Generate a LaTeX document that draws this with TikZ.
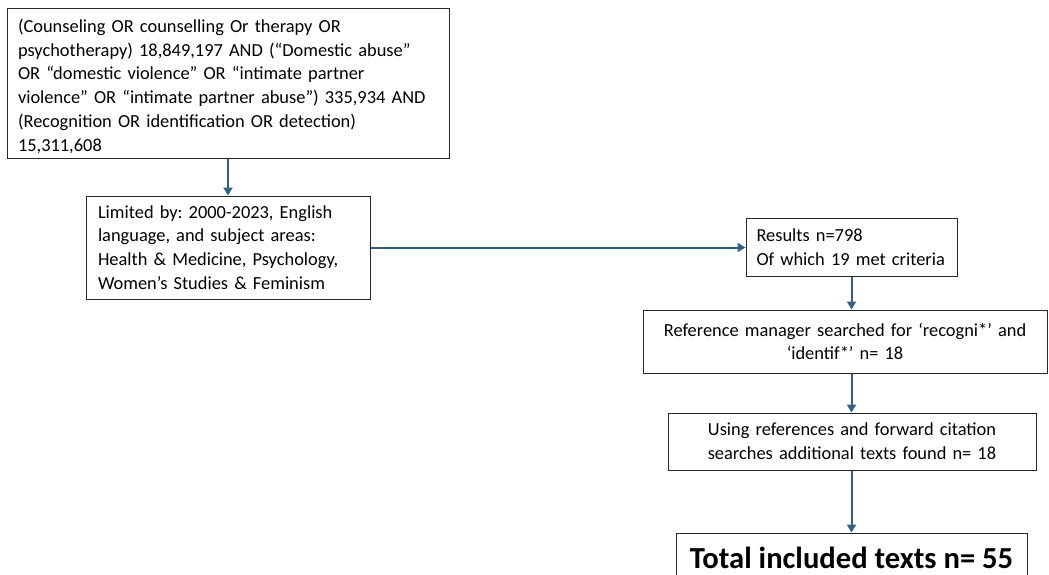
\documentclass[tikz,border=0pt]{standalone}
\usepackage{fontspec}
\setmainfont{Carlito}
\usetikzlibrary{arrows.meta}
\definecolor{flowblue}{RGB}{49,96,139}
\definecolor{boxline}{RGB}{40,40,40}
\newcommand{\boxfont}{\fontsize{18.4}{23.7}\selectfont\frenchspacing
  \hyphenpenalty=10000 \exhyphenpenalty=10000}
\tikzset{
  box/.style={draw=boxline, line width=1pt, rectangle, inner sep=0pt,
    font=\boxfont, text=black},
  leftbox/.style={box, align=left},
  midbox/.style={box, align=center},
  flow/.style={draw=flowblue, line width=2pt,
    -{Triangle[width=9pt,length=8pt]}}
}
\begin{document}
\begin{tikzpicture}[x=1pt,y=-1pt]
\useasboundingbox (0,0) rectangle (1049,574);

% search string
\node[leftbox, minimum width=442, minimum height=150, text width=420]
  (query) at (228,83)
  {\rule{0pt}{20pt}(Counseling OR counselling Or therapy OR\\
   psychotherapy) 18,849,197 AND (“Domestic abuse”\\
   OR “domestic violence” OR “intimate partner\\
   violence” OR “intimate partner abuse”) 335,934 AND\\
   (Recognition OR identification OR detection)\\
   15,311,608};

% limits applied
\node[leftbox, minimum width=284, minimum height=103, text width=260]
  (limits) at (228,247.5)
  {Limited by: 2000-2023, English\\
   language, and subject areas:\\
   Health \& Medicine, Psychology,\\
   Women’s Studies \& Feminism};

% results of the database search
\node[leftbox, minimum width=211, minimum height=58, text width=190]
  (results) at (851.5,247.5)
  {Results n=798\\
   Of which 19 met criteria};

% reference manager screening
\node[midbox, minimum width=404, minimum height=63, text width=390]
  (refman) at (845,341.5)
  {Reference manager searched for ‘recogni*’ and\\
   ‘identif*’ n= 18};

% citation chasing
\node[midbox, minimum width=368, minimum height=57, text width=350]
  (citations) at (852,441.5)
  {Using references and forward citation\\
   searches additional texts found n= 18};

% final count
\node[box, minimum width=351, minimum height=50,
  font=\fontsize{30.6}{36}\selectfont\bfseries]
  (total) at (851.5,558)
  {Total included texts n= 55};

% connectors
\draw[flow] (query.south) -- (limits.north);
\draw[flow] (limits.east) -- (results.west);
\draw[flow] (results.south) -- (results.south |- refman.north);
\draw[flow] (refman.south -| results.south) -- (citations.north -| results.south);
\draw[flow] (citations.south -| results.south) -- (total.north -| results.south);
\end{tikzpicture}
\end{document}
